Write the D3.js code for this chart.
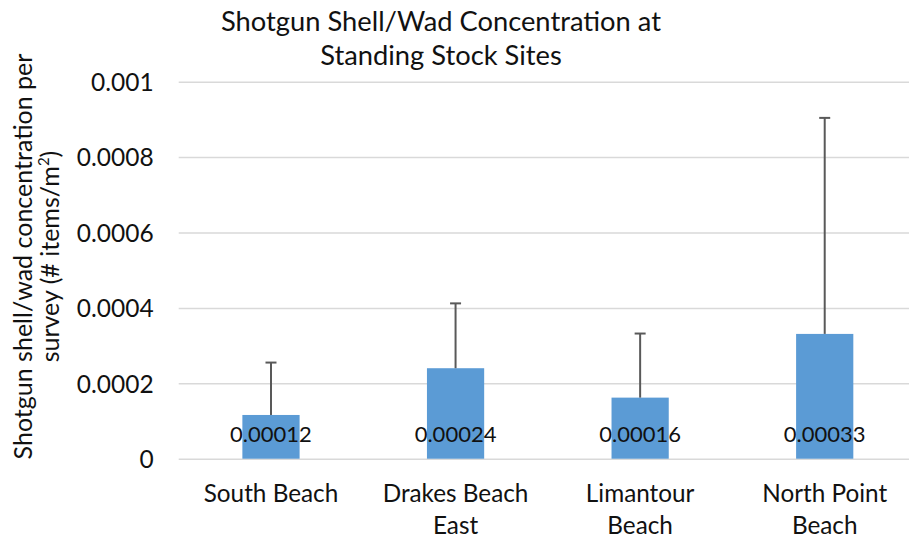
<!DOCTYPE html>
<html>
<head>
<meta charset="utf-8">
<script src="https://cdn.jsdelivr.net/npm/d3@7"></script>
<style>
  html, body { margin: 0; padding: 0; background: #fff; }
  svg { display: block; }
  text { font-family: Lato, "Open Sans", sans-serif; fill: #111; }
</style>
</head>
<body>
<svg id="chart" width="909" height="539"></svg>
<script>
const categories = [["South Beach"], ["Drakes Beach", "East"], ["Limantour", "Beach"], ["North Point", "Beach"]];
const values = [0.000116, 0.000240, 0.000162, 0.000331];
const valueLabels = ["0.00012", "0.00024", "0.00016", "0.00033"];
const errorPlus = [0.000139, 0.000172, 0.000170, 0.000573];
const yTicks = [0, 0.0002, 0.0004, 0.0006, 0.0008, 0.001];
const yTickLabels = ["0", "0.0002", "0.0004", "0.0006", "0.0008", "0.001"];
const titleLines = ["Shotgun Shell/Wad Concentration at", "Standing Stock Sites"];

(function () {
const svg = d3.select("#chart");
svg.append("rect").attr("width", 909).attr("height", 539).attr("fill", "#fff");

const pL = 178.7, pR = 917, pT = 81.7, pB = 458.7;
const names = categories.map(c => c.join(" "));
const x = d3.scaleBand().domain(names).range([pL, pR]).paddingInner(0.69).paddingOuter(0.345);
const y = d3.scaleLinear().domain([0, 0.001]).range([pB, pT]);

// gridlines + tick labels
const yAxis = d3.axisLeft(y).tickValues(yTicks).tickSize(-(pR - pL)).tickFormat((d, i) => yTickLabels[i]).tickPadding(25);
const ga = svg.append("g").attr("transform", `translate(${pL},0)`).call(yAxis);
ga.select(".domain").remove();
ga.selectAll(".tick line").attr("stroke", "#d9d9d9").attr("stroke-width", 1.5);
ga.selectAll(".tick text").attr("font-size", 24.5).attr("font-family", "Lato").attr("fill", "#111").attr("dy", "0.36em");

// bars
svg.append("g").selectAll("rect").data(values).join("rect")
  .attr("x", (d, i) => x(names[i]))
  .attr("width", x.bandwidth())
  .attr("y", d => y(d))
  .attr("height", d => pB - y(d))
  .attr("fill", "#5b9bd5");

// error bars
const eb = svg.append("g").attr("stroke", "#595959").attr("stroke-width", 2);
values.forEach((v, i) => {
  const cx = x(names[i]) + x.bandwidth() / 2;
  eb.append("line").attr("x1", cx).attr("x2", cx).attr("y1", y(v)).attr("y2", y(v + errorPlus[i]));
  eb.append("line").attr("x1", cx - 5.5).attr("x2", cx + 5.5).attr("y1", y(v + errorPlus[i])).attr("y2", y(v + errorPlus[i]));
});

// value labels
svg.append("g").selectAll("text").data(valueLabels).join("text")
  .attr("x", (d, i) => x(names[i]) + x.bandwidth() / 2)
  .attr("y", 442)
  .attr("text-anchor", "middle")
  .attr("font-size", 22)
  .text(d => d);

// category labels
const cg = svg.append("g");
categories.forEach((lines, i) => {
  const cx = x(names[i]) + x.bandwidth() / 2;
  lines.forEach((l, j) => {
    cg.append("text").attr("x", cx).attr("y", 502 + j * 31.6).attr("text-anchor", "middle").attr("font-size", 24.3).text(l);
  });
});

// title
titleLines.forEach((t, j) => {
  svg.append("text").attr("x", 441).attr("y", 31 + j * 34).attr("text-anchor", "middle").attr("font-size", 27.3).text(t);
});

// y axis title
const yt = svg.append("text").attr("transform", "translate(0,256.5) rotate(-90)").attr("text-anchor", "middle").attr("font-size", 25);
yt.append("tspan").attr("x", 0).attr("y", 32).text("Shotgun shell/wad concentration per");
const yt2 = svg.append("text").attr("transform", "translate(0,256.5) rotate(-90)").attr("text-anchor", "middle").attr("font-size", 25)
  .attr("x", 0).attr("y", 59);
yt2.append("tspan").text("survey (# items/m");
yt2.append("tspan").attr("font-size", 15).attr("dy", -10).text("2");
yt2.append("tspan").attr("dy", 10).text(")");
})();
</script>
</body>
</html>
